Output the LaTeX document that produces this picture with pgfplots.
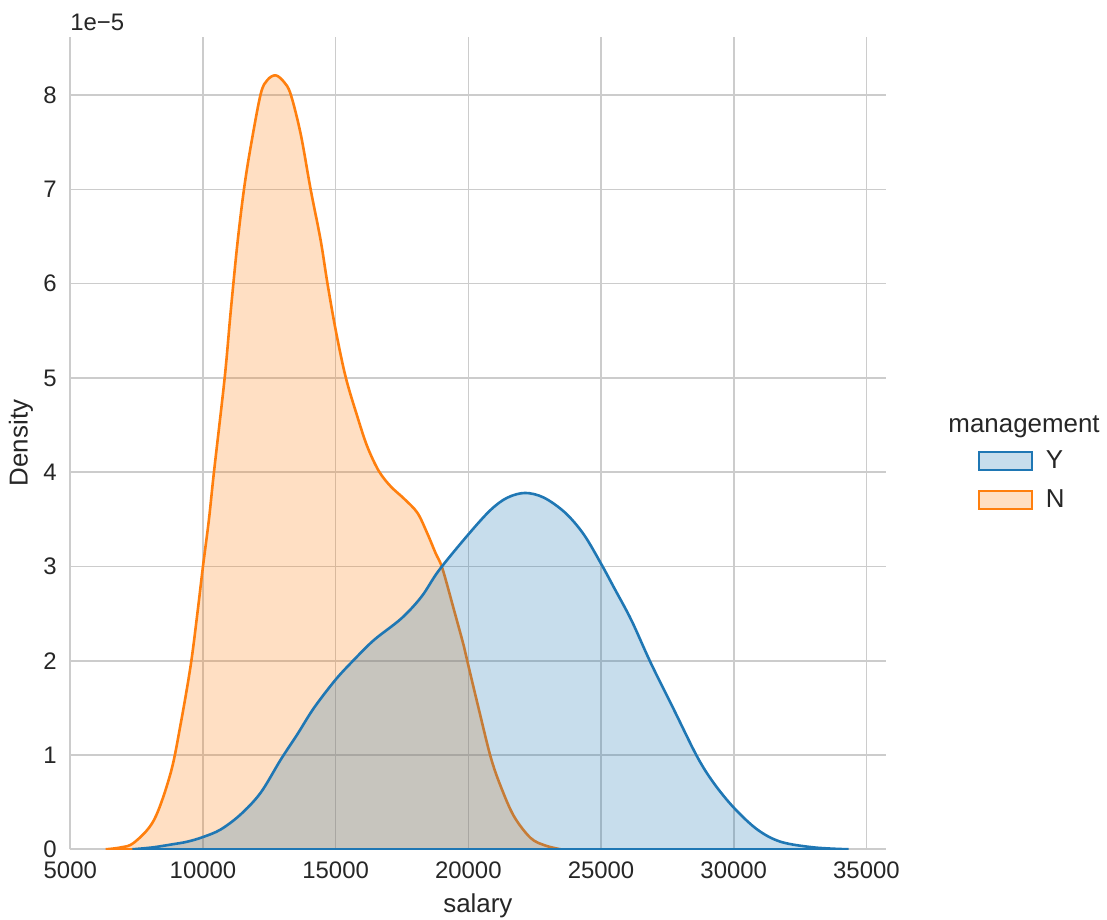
\documentclass[border=0pt]{standalone}
\usepackage{fontspec}
\setmainfont{Liberation Sans}
\usepackage{pgfplots}
\pgfplotsset{compat=1.18}
\definecolor{snsblue}{HTML}{1F77B4}
\definecolor{snsorange}{HTML}{FF7F0E}
\definecolor{gridgray}{HTML}{CCCCCC}
\definecolor{textgray}{HTML}{262626}

\begin{document}
\begin{tikzpicture}
% page size fixed to the reference frame (1 px = 0.5bp)
\useasboundingbox (-35bp,-35.35bp) rectangle (518.5bp,424.65bp);
\begin{axis}[
  scale only axis,
  width=407.9bp,
  height=406.3bp,
  clip mode=individual,
  xmin=4990, xmax=35730,
  ymin=0, ymax=8.62e-5,
  axis x line*=bottom,
  axis y line*=left,
  axis line style={gridgray, line width=0.9bp},
  major tick length=0pt,
  grid=major,
  grid style={gridgray, line width=0.8bp},
  xtick={5000,10000,15000,20000,25000,30000,35000},
  ytick={0,1e-5,2e-5,3e-5,4e-5,5e-5,6e-5,7e-5,8e-5},
  yticklabels={0,1,2,3,4,5,6,7,8},
  scaled x ticks=false,
  scaled y ticks=false,
  /pgf/number format/assume math mode=true,
  /pgf/number format/set thousands separator={},
  tick label style={font=\fontsize{12}{14}\selectfont, text=textgray, inner sep=0pt},
  xticklabel style={anchor=north, yshift=-6.3bp},
  yticklabel style={anchor=east, xshift=-6.5bp},
  xlabel={salary},
  ylabel={Density},
  label style={font=\fontsize{13}{15}\selectfont, text=textgray, inner sep=0pt},
  xlabel style={at={(axis description cs:0.5,-0.0539)}, anchor=north},
  ylabel style={at={(axis description cs:-0.045,0.5)}, rotate=0, anchor=south},
  legend image code/.code={\draw[#1] (0bp,-4.5bp) rectangle (26.5bp,4.5bp);},
  legend style={
    at={(axis description cs:1.112,0.454)}, anchor=west,
    draw=none, fill=none, inner sep=0pt, row sep=9bp,
    font=\fontsize{13}{15}\selectfont, text=textgray,
    nodes={inner sep=0pt},
    /tikz/every odd column/.append style={column sep=6.5bp}
  },
  legend cell align=left,
]
\addlegendimage{draw=snsblue, fill=snsblue, fill opacity=0.25, line width=1.1bp}
\addlegendentry{Y}
\addlegendimage{draw=snsorange, fill=snsorange, fill opacity=0.25, line width=1.1bp}
\addlegendentry{N}

% N (drawn first, Y overlays it)
\addplot[forget plot, smooth, tension=0.55, draw=snsorange, line width=1.3bp,
  fill=snsorange, fill opacity=0.25] coordinates {
  (6334,0) (6900,0.02e-5) (7400,0.07e-5) (8154,0.31e-5) (8783,0.81e-5)
  (9160,1.33e-5) (9537,1.95e-5) (9789,2.50e-5) (10000,3.0e-5) (10226,3.5e-5)
  (10414,4.0e-5) (10818,5.0e-5) (11044,5.7e-5) (11296,6.42e-5) (11545,7.0e-5)
  (11797,7.45e-5) (12174,8.01e-5) (12426,8.16e-5) (12739,8.21e-5) (13052,8.14e-5)
  (13305,8.01e-5) (13681,7.59e-5) (14058,7.0e-5) (14435,6.46e-5) (14687,6.01e-5)
  (15000,5.51e-5) (15377,5.01e-5) (15818,4.59e-5) (16195,4.27e-5) (16632,4.01e-5)
  (17073,3.85e-5) (17574,3.72e-5) (18079,3.57e-5) (18455,3.35e-5) (18768,3.14e-5)
  (19021,2.98e-5) (19458,2.54e-5) (19835,2.15e-5) (20000,1.95e-5) (20400,1.48e-5)
  (20840,0.98e-5) (21217,0.67e-5) (21719,0.35e-5) (22347,0.12e-5) (22900,0.04e-5)
  (23477,0)
} \closedcycle;

% Y
\addplot[forget plot, smooth, tension=0.55, draw=snsblue, line width=1.3bp,
  fill=snsblue, fill opacity=0.25] coordinates {
  (7340,0) (8100,0.02e-5) (8783,0.05e-5) (9400,0.08e-5) (10000,0.13e-5)
  (10667,0.21e-5) (11420,0.37e-5) (12174,0.60e-5) (12928,0.95e-5) (13557,1.22e-5)
  (14183,1.50e-5) (15000,1.80e-5) (15690,2.01e-5) (16444,2.22e-5) (17481,2.45e-5)
  (18235,2.68e-5) (18894,2.96e-5) (20000,3.34e-5) (20840,3.60e-5) (21470,3.73e-5)
  (22140,3.78e-5) (22849,3.73e-5) (23650,3.57e-5) (24350,3.34e-5) (25000,3.03e-5)
  (25500,2.77e-5) (26144,2.43e-5) (26869,1.98e-5) (27748,1.48e-5) (28627,0.98e-5)
  (29254,0.70e-5) (30008,0.44e-5) (30887,0.21e-5) (31766,0.08e-5) (33022,0.02e-5)
  (34330,0)
} \closedcycle;

\node[anchor=south west, inner sep=0pt, yshift=2.8bp, text=textgray,
  font=\fontsize{12}{14}\selectfont] at (axis description cs:0,1) {1e−5};
\node[inner sep=0pt, text=textgray, font=\fontsize{13}{15}\selectfont]
  at (axis description cs:1.1695,0.5197) {management};
\end{axis}
\end{tikzpicture}
\end{document}
